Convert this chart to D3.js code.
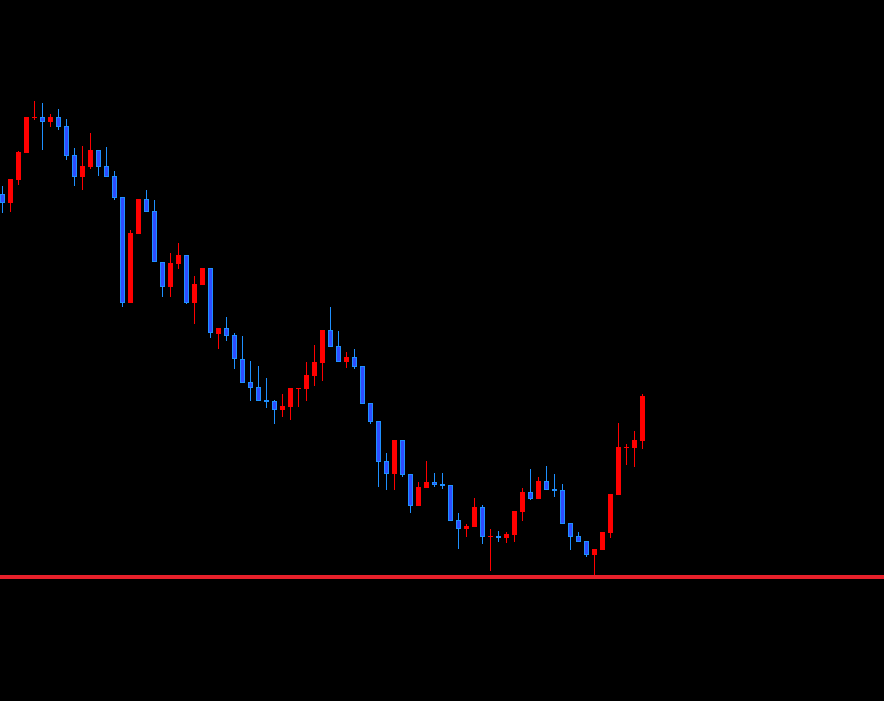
<!DOCTYPE html>
<html>
<head>
<meta charset="utf-8">
<script src="https://cdn.jsdelivr.net/npm/d3@7.9.0/dist/d3.min.js"></script>
<style>
  html, body { margin: 0; padding: 0; background: #000; overflow: hidden; }
  svg { display: block; }
</style>
</head>
<body>
<div id="chart"></div>
<script>
const opens = [
  108.06, 107.97, 108.20, 108.47, 108.82, 108.83, 108.78, 108.83, 108.74, 108.45,
  108.23, 108.33, 108.50, 108.34, 108.24, 108.03, 106.97, 107.66, 108.01, 107.89,
  107.38, 107.13, 107.36, 107.45, 106.97, 107.15, 107.32, 106.66, 106.72, 106.65,
  106.41, 106.18, 106.13, 106.00, 105.99, 105.90, 105.93, 106.11, 106.11, 106.24,
  106.37, 106.70, 106.54, 106.38, 106.43, 106.34, 105.97, 105.79, 105.39, 105.26,
  105.60, 105.26, 104.94, 105.12, 105.18, 105.16, 105.15, 104.80, 104.71, 104.73,
  104.93, 104.63, 104.64, 104.62, 104.65, 104.88, 105.08, 105.01, 105.19, 105.11,
  105.10, 104.77, 104.64, 104.59, 104.45, 104.50, 104.67, 105.05, 105.52, 105.52,
  105.59
];
const highs = [
  108.14, 108.21, 108.49, 108.83, 108.99, 108.97, 108.86, 108.91, 108.81, 108.52,
  108.54, 108.67, 108.50, 108.53, 108.29, 108.03, 107.70, 108.01, 108.10, 108.00,
  107.38, 107.47, 107.57, 107.45, 107.24, 107.32, 107.32, 106.72, 106.83, 106.67,
  106.64, 106.39, 106.34, 106.22, 106.00, 106.06, 106.12, 106.12, 106.38, 106.55,
  106.70, 106.93, 106.69, 106.48, 106.51, 106.34, 105.97, 105.79, 105.47, 105.60,
  105.60, 105.26, 105.18, 105.39, 105.27, 105.27, 105.15, 104.87, 104.76, 105.02,
  104.95, 104.71, 104.69, 104.68, 104.89, 105.12, 105.31, 105.23, 105.34, 105.26,
  105.16, 104.77, 104.68, 104.59, 104.51, 104.68, 105.06, 105.77, 105.56, 105.69,
  106.06
];
const lows = [
  107.87, 107.88, 108.15, 108.47, 108.80, 108.50, 108.73, 108.70, 108.40, 108.14,
  108.10, 108.31, 108.24, 108.23, 108.00, 106.93, 106.97, 107.66, 107.88, 107.38,
  107.03, 107.03, 107.31, 106.96, 106.76, 107.15, 106.62, 106.51, 106.59, 106.31,
  106.17, 105.99, 105.99, 105.92, 105.76, 105.83, 105.80, 105.93, 105.99, 106.14,
  106.19, 106.53, 106.38, 106.32, 106.31, 105.96, 105.76, 105.13, 105.10, 105.10,
  105.23, 104.87, 104.94, 105.12, 105.13, 105.11, 104.79, 104.51, 104.63, 104.73,
  104.56, 104.29, 104.58, 104.57, 104.58, 104.79, 105.00, 105.01, 105.10, 105.03,
  104.76, 104.50, 104.58, 104.43, 104.25, 104.50, 104.62, 105.05, 105.35, 105.33,
  105.51
];
const closes = [
  107.97, 108.21, 108.48, 108.83, 108.83, 108.78, 108.83, 108.73, 108.44, 108.23,
  108.34, 108.50, 108.33, 108.23, 108.02, 106.97, 107.67, 108.01, 107.88, 107.38,
  107.13, 107.37, 107.45, 106.97, 107.16, 107.32, 106.67, 106.72, 106.64, 106.41,
  106.17, 106.12, 105.99, 105.98, 105.90, 105.94, 106.12, 106.12, 106.25, 106.38,
  106.70, 106.53, 106.38, 106.43, 106.33, 105.96, 105.78, 105.38, 105.26, 105.60,
  105.25, 104.94, 105.13, 105.18, 105.15, 105.14, 104.79, 104.71, 104.74, 104.93,
  104.63, 104.64, 104.63, 104.66, 104.89, 105.08, 105.01, 105.19, 105.10, 105.09,
  104.76, 104.63, 104.58, 104.45, 104.51, 104.68, 105.06, 105.53, 105.53, 105.60,
  106.04
];
const levelLine = 104.23;

const width = 884;
const height = 701;

const candles = opens.map((o, i) => ({
  i, open: o, high: highs[i], low: lows[i], close: closes[i],
  up: closes[i] > o
}));

const xScale = d3.scaleLinear()
  .domain([0, candles.length - 1])
  .range([2.5, 2.5 + 8 * (candles.length - 1)]);

const yScale = d3.scaleLinear()
  .domain([103, 110])
  .range([700, 0]);

const upColor = '#ff0000';
const downFill = '#2e4dff';
const downStroke = '#1e90ff';
const bodyW = 5;

const svg = d3.select('#chart')
  .append('svg')
  .attr('width', width)
  .attr('height', height)
  .style('background', '#000');

svg.append('line')
  .attr('x1', 0)
  .attr('x2', width)
  .attr('y1', yScale(levelLine))
  .attr('y2', yScale(levelLine))
  .attr('stroke', '#e8202a')
  .attr('stroke-width', 4);

const g = svg.append('g').attr('class', 'candles');

const candle = g.selectAll('g')
  .data(candles)
  .join('g');

// wicks
candle.append('rect')
  .attr('x', d => Math.floor(xScale(d.i)))
  .attr('y', d => Math.round(yScale(d.high)))
  .attr('width', 1)
  .attr('height', d => Math.max(1, Math.round(yScale(d.low)) - Math.round(yScale(d.high))))
  .attr('fill', d => d.up ? upColor : downStroke);

// bodies
candle.append('rect')
  .attr('x', d => Math.round(xScale(d.i) - bodyW / 2) + (d.up ? 0 : 0.5))
  .attr('y', d => Math.round(yScale(Math.max(d.open, d.close))) + (d.up ? 0 : 0.5))
  .attr('width', d => d.up ? bodyW : bodyW - 1)
  .attr('height', d => {
    const h = Math.round(yScale(Math.min(d.open, d.close))) - Math.round(yScale(Math.max(d.open, d.close)));
    return d.up ? Math.max(1, h) : Math.max(1, h - 1);
  })
  .attr('fill', d => d.up ? upColor : downFill)
  .attr('stroke', d => d.up ? 'none' : downStroke)
  .attr('stroke-width', 1);
</script>
</body>
</html>
